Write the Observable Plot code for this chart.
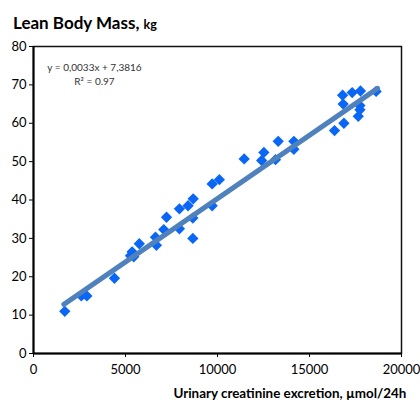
<!DOCTYPE html>
<html>
<head>
<meta charset="utf-8">
<script src="https://cdn.jsdelivr.net/npm/d3@7"></script>
<script src="https://cdn.jsdelivr.net/npm/@observablehq/plot@0.6"></script>
<style>
  body { margin: 0; background: #fff; width: 420px; height: 410px; overflow: hidden; }
  #title { height: 36px; box-sizing: border-box; padding: 13px 0 0 13px; font: bold 17px Lato, sans-serif; line-height: 20px; color: #000; white-space: nowrap; }
  #title small { font-size: 12.5px; }
</style>
</head>
<body>
<div id="title">Lean Body Mass, <small>kg</small></div>
<div id="chart"></div>
<script>
// Urinary creatinine excretion (µmol/24h)
const creatinine = [1700, 2600, 2900, 4400, 5270, 5360, 5450, 5750, 6630, 6680, 7080, 7230, 7930, 7930, 8400, 8680, 8660, 8660, 9710, 9710, 10100, 11450, 12400, 12520, 13150, 13300, 14150, 14150, 16360, 16870, 16830, 16800, 17320, 17770, 17740, 17740, 17650, 18620];
// Lean body mass (kg)
const leanMass = [11, 15, 15, 19.6, 25.5, 26.5, 25.2, 28.6, 30.3, 28.2, 32.3, 35.5, 37.7, 32.5, 38.5, 40.3, 35.3, 30, 38.5, 44.2, 45.3, 50.7, 50.3, 52.4, 50.5, 55.3, 55.3, 53.2, 58.1, 60, 65, 67.3, 68, 68.4, 64.6, 63.5, 61.8, 68.3];
// Trendline end points
const trendX = [1650, 18700];
const trendY = [12.8, 69.1];
const xTicks = [0, 5000, 10000, 15000, 20000];
const yTicks = [0, 10, 20, 30, 40, 50, 60, 70, 80];
const equationText = "y = 0,0033x + 7,3816\nR² = 0.97";
const xLabel = "Urinary creatinine excretion, µmol/24h";

const points = creatinine.map((x, i) => ({x, y: leanMass[i]}));
const trend = trendX.map((x, i) => ({x, y: trendY[i]}));

const chart = Plot.plot({
  width: 420,
  height: 374,
  marginTop: 10,
  marginLeft: 33,
  marginRight: 19,
  marginBottom: 57,
  style: {fontFamily: "Lato, sans-serif", fontSize: "13px", color: "#000", background: "#fff"},
  x: {domain: [0, 20000]},
  y: {domain: [0, 80]},
  marks: [
    Plot.frame({stroke: "#111", strokeWidth: 1.5}),
    Plot.axisY({ticks: yTicks, tickSize: 4, tickPadding: 3, label: null, fontSize: 13}),
    Plot.axisX({ticks: xTicks, tickSize: 4, tickPadding: 7, label: null, tickFormat: d3.format("d"), fontSize: 13}),
    Plot.ruleX([0], {stroke: "#000", strokeWidth: 2}),
    Plot.ruleY([0], {stroke: "#000", strokeWidth: 2}),
    Plot.dot(points, {x: "x", y: "y", symbol: "diamond2", r: 5.1, fill: "#0a66f5", stroke: "none"}),
    Plot.line(trend, {x: "x", y: "y", stroke: "#4f81bd", strokeWidth: 5}),
    Plot.text([equationText], {frameAnchor: "top-left", dx: 61, dy: 27, textAnchor: "middle", lineAnchor: "middle", lineHeight: 1.4, fontSize: 10, fill: "#333"}),
    Plot.text([xLabel], {frameAnchor: "bottom-left", dx: 140, dy: 44, textAnchor: "start", fontSize: 13.4, fontWeight: "bold", fill: "#000"})
  ]
});
document.getElementById("chart").appendChild(chart);
</script>
</body>
</html>
